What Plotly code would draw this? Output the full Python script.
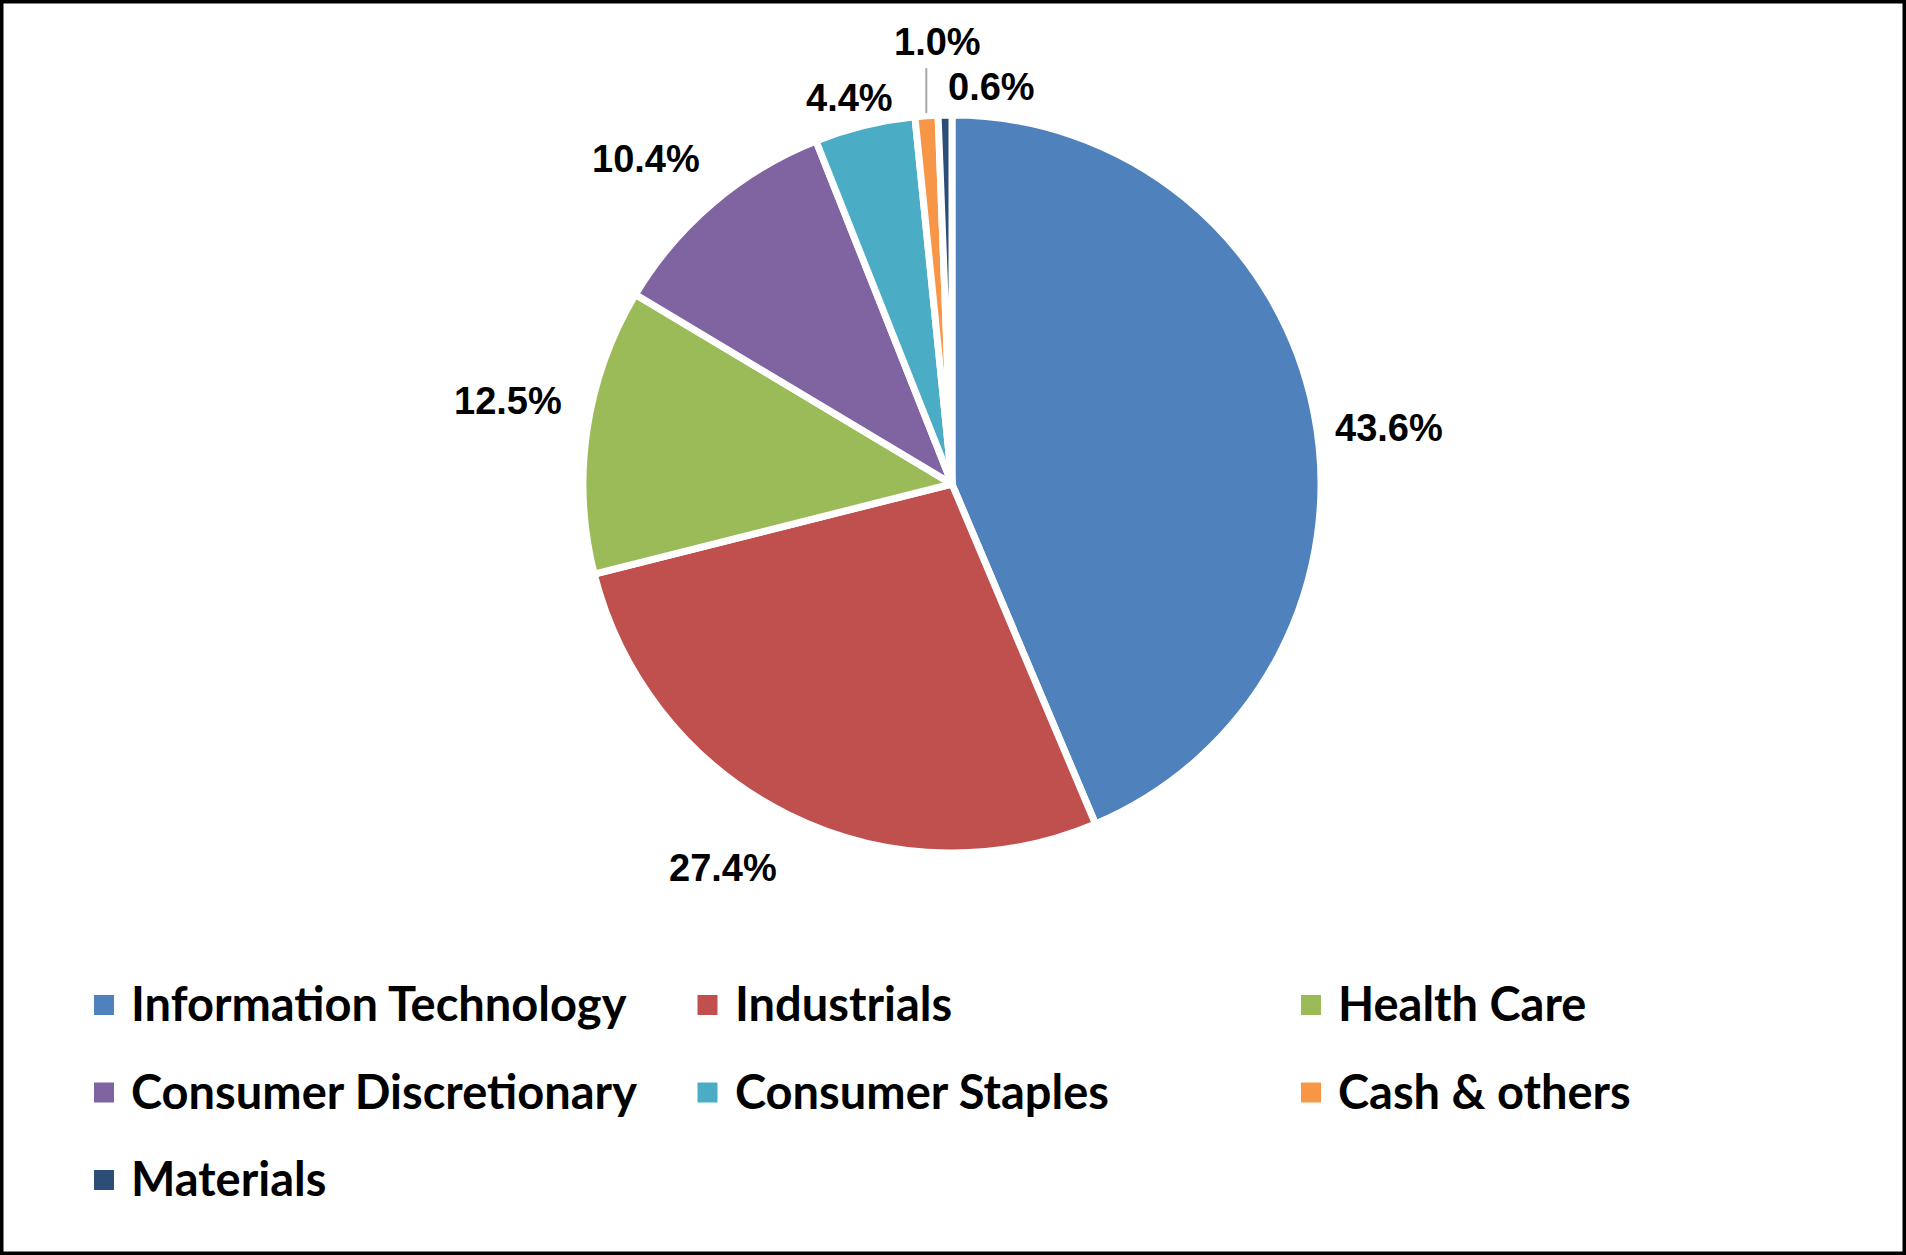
import math
import plotly.graph_objects as go

# Sector allocation (%)
sectors = ["Information Technology", "Industrials", "Health Care",
           "Consumer Discretionary", "Consumer Staples", "Cash & others", "Materials"]
weights = [43.6, 27.4, 12.5, 10.4, 4.4, 1.0, 0.6]

colors = ["#4F81BD", "#C0504D", "#9BBB59", "#8064A2", "#4BACC6", "#F79646", "#2C4D75"]

W, H = 1906, 1255
# pie geometry in pixels
cx, cy, rad = 952, 484, 369

# label placement tweaks (radius factor, angle shift in degrees)
lab_r = [1.194, 1.212, 1.224, 1.21, 1.083, 1.198, 1.08]
lab_shift = [4.1, 4.3, 2.2, -2.9, -1.1, 2.1, 6.8]

fig = go.Figure()
fig.add_trace(go.Pie(
    labels=sectors,
    values=weights,
    sort=False,
    direction="clockwise",
    rotation=0,
    marker=dict(colors=colors, line=dict(color="white", width=7)),
    textinfo="none",
    hoverinfo="label+percent",
    showlegend=False,
    domain=dict(x=[(cx - rad) / W, (cx + rad) / W],
                y=[1 - (cy + rad) / H, 1 - (cy - rad) / H]),
))

total = sum(weights)
cum = 0
for i, v in enumerate(weights):
    mid = (cum + v / 2) / total * 360
    cum += v
    a = math.radians(mid + lab_shift[i])
    px = cx + rad * lab_r[i] * math.sin(a)
    py = cy - rad * lab_r[i] * math.cos(a)
    fig.add_annotation(
        x=px / W, y=1 - py / H, xref="paper", yref="paper",
        xanchor="center", yanchor="middle",
        text=f"{v:.1f}%", showarrow=False,
        font=dict(family="Liberation Sans, Arial", size=38, color="black", weight="bold"),
    )
    if sectors[i] == "Cash & others":
        # leader line for the small slice label
        am = math.radians(mid)
        x0 = cx + rad * 1.008 * math.sin(am)
        y0 = cy - rad * 1.008 * math.cos(am)
        y1 = cy - rad * 1.127
        fig.add_shape(type="line", xref="paper", yref="paper",
                      x0=x0 / W, y0=1 - y0 / H, x1=x0 / W, y1=1 - y1 / H,
                      line=dict(color="#A6A6A6", width=2))

# legend drawn in three columns
leg_x0, leg_dx = 104, 603.5
leg_y0, leg_dy = 1005, 87.5
box = 10
for i, name in enumerate(sectors):
    col, row = i % 3, i // 3
    mx = leg_x0 + col * leg_dx
    my = leg_y0 + row * leg_dy
    fig.add_shape(type="rect", xref="paper", yref="paper",
                  x0=(mx - box) / W, x1=(mx + box) / W,
                  y0=1 - (my + box) / H, y1=1 - (my - box) / H,
                  fillcolor=colors[i], line=dict(width=0))
    fig.add_annotation(
        x=(mx + 25) / W, y=1 - (my - 2) / H, xref="paper", yref="paper",
        xanchor="left", yanchor="middle", showarrow=False,
        text=name,
        font=dict(family="Lato", size=47, color="black", weight="bold"),
    )

# outer frame
fig.add_shape(type="rect", xref="paper", yref="paper", x0=0, y0=0, x1=1, y1=1,
              line=dict(color="black", width=7))

fig.update_layout(
    width=W, height=H,
    margin=dict(l=0, r=0, t=0, b=0),
    paper_bgcolor="white",
    plot_bgcolor="white",
    showlegend=False,
)

fig.write_html("out.html", config={"displayModeBar": False},
               post_script="document.body.style.margin='0';document.body.style.overflow='hidden';")
